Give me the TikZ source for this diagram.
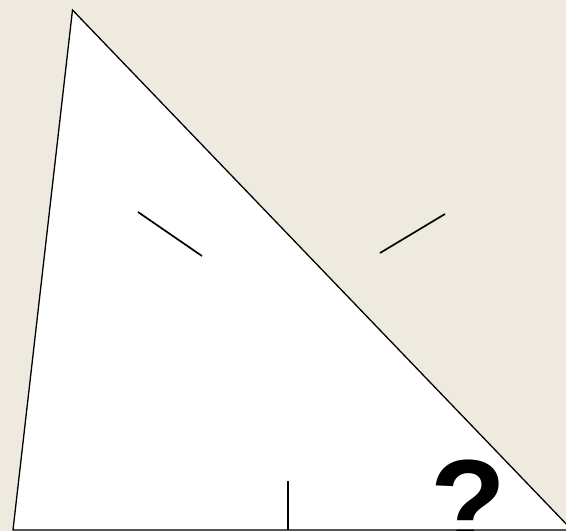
\documentclass[tikz,border=0pt]{standalone}
\usepackage{fontspec}
\setmainfont{Liberation Sans}
\definecolor{paper}{RGB}{238,234,223}

\begin{document}
\begin{tikzpicture}[x=1pt, y=-1pt,
    edge/.style={draw=black, line width=1.3pt},
    tick/.style={draw=black, line width=1.7pt}]
    \fill[paper] (0,0) rectangle (566,531);
    \useasboundingbox (0,0) rectangle (566,531);

    \coordinate (apex) at (72.5,10);
    \coordinate (left) at (13,530);
    \coordinate (right) at (572,530);
    \filldraw[fill=white, edge, line join=miter] (apex) -- (left) -- (right) -- cycle;

    \coordinate (t1a) at (138,212);
    \coordinate (t1b) at (202,256);
    \coordinate (t2a) at (380,253);
    \coordinate (t2b) at (445,214);
    \coordinate (t3a) at (288,481);
    \coordinate (t3b) at (288,530);
    \draw[tick] (t1a) -- (t1b);
    \draw[tick] (t2a) -- (t2b);
    \draw[tick] (t3a) -- (t3b);

    \node[inner sep=0pt, anchor=base west, font=\fontsize{124}{124}\selectfont\bfseries] (ask) at (430,546) {?};
\end{tikzpicture}
\end{document}
